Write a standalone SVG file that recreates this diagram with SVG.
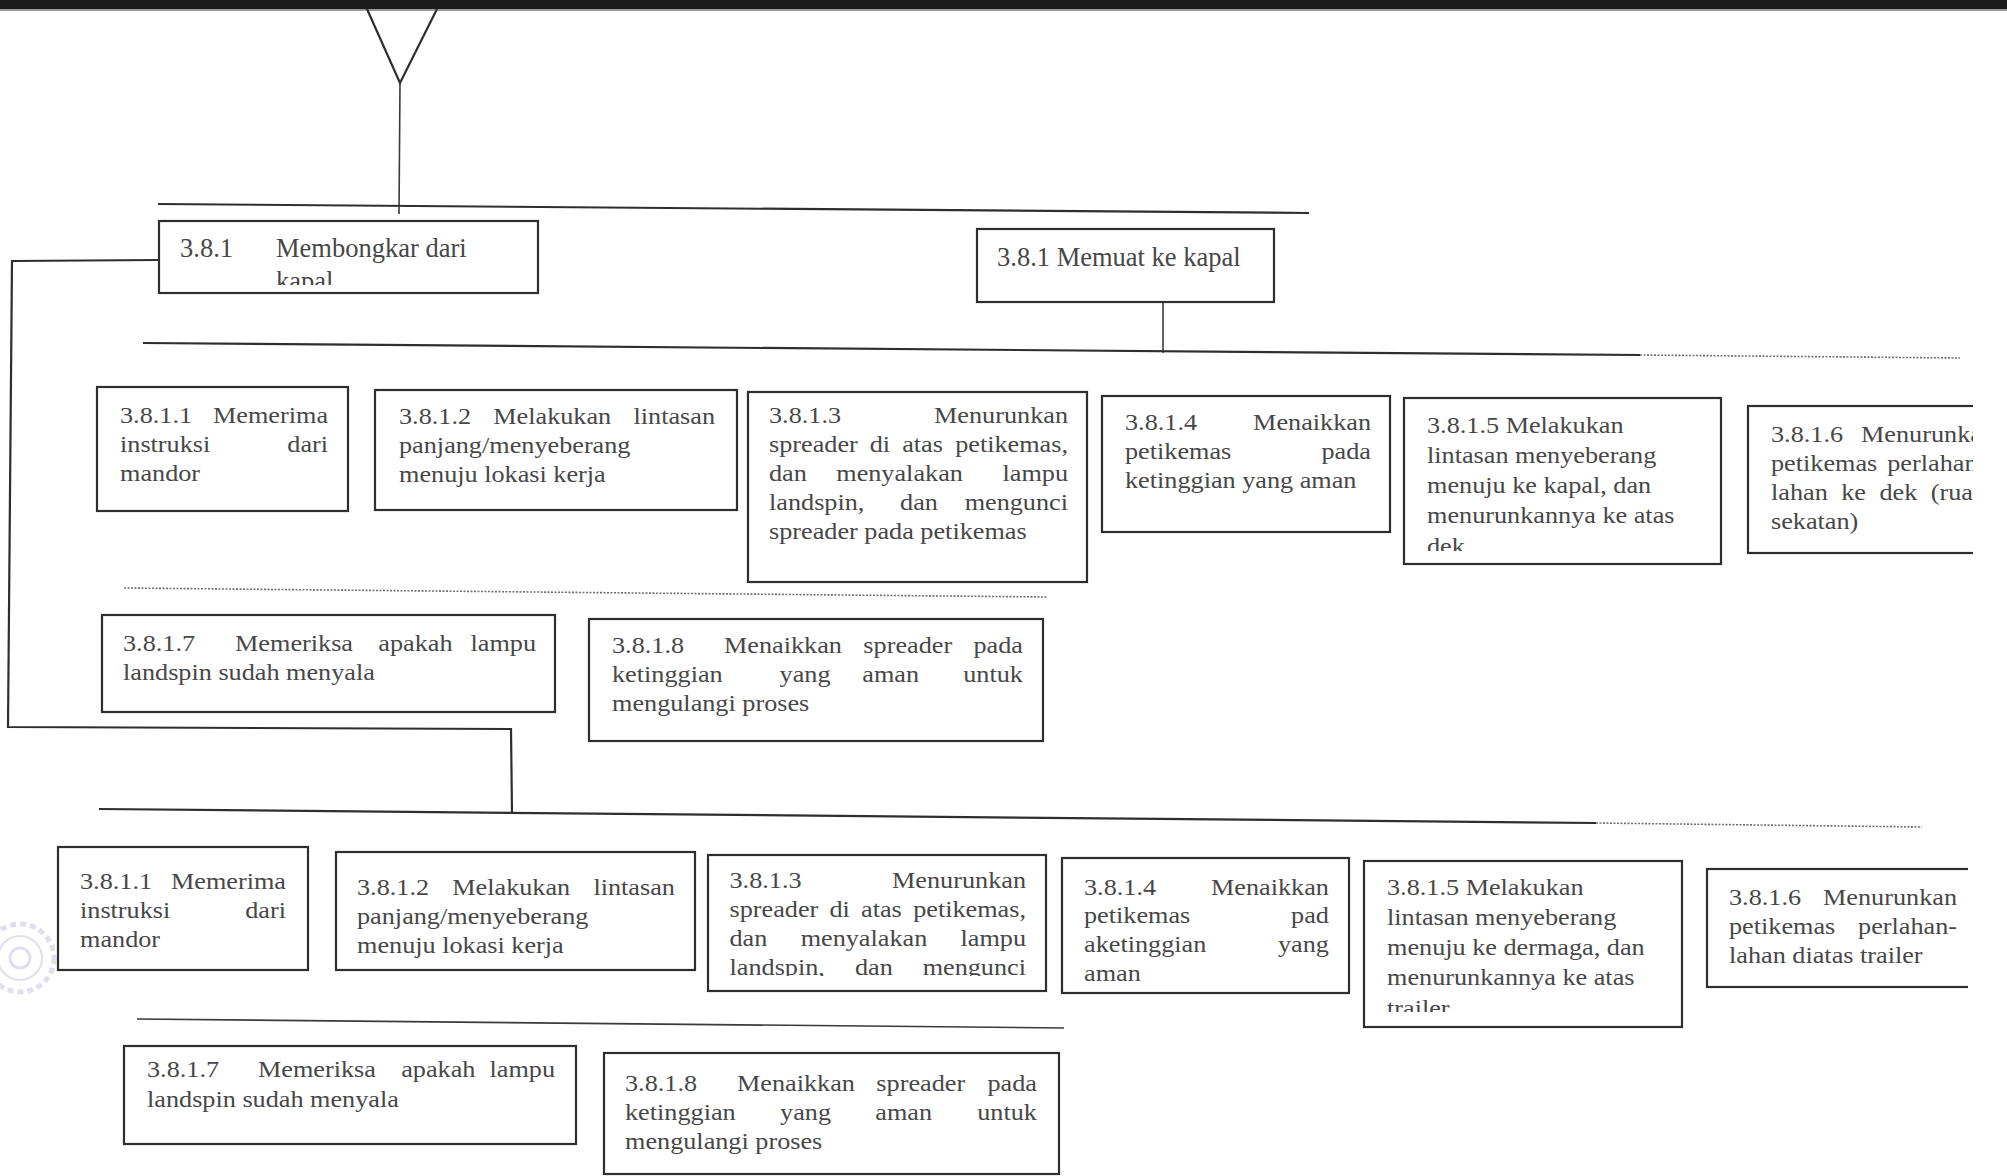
<svg xmlns="http://www.w3.org/2000/svg" width="2007" height="1176" viewBox="0 0 2007 1176">
  <style>
    .box { fill: #ffffff; stroke: #2e2e2e; stroke-width: 2.2; }
    .ln { fill: none; stroke: #2e2e2e; stroke-width: 2.2; }
    .thin { fill: none; stroke: #3a3a3a; stroke-width: 1.6; }
    .dots { fill: none; stroke: #707070; stroke-width: 1.6; stroke-dasharray: 2 1.5; }
    .t { font-family: "Liberation Serif", "Times New Roman", serif; font-size: 23px; fill: #474747; }
    .tb { font-family: "Liberation Serif", "Times New Roman", serif; font-size: 26.5px; fill: #474747; }
    .e { text-anchor: end; }
    .stamp { fill: none; stroke: #bdb6d8; opacity: 0.45; }
  </style>
  <defs>
    <clipPath id="clipA1"><rect x="150" y="215" width="400" height="70"/></clipPath>
    <clipPath id="clipB5"><rect x="1395" y="390" width="340" height="161"/></clipPath>
    <clipPath id="clipB6"><rect x="1740" y="395" width="233" height="170"/></clipPath>
    <clipPath id="clipD3"><rect x="700" y="845" width="360" height="131"/></clipPath>
    <clipPath id="clipD5"><rect x="1355" y="850" width="340" height="162"/></clipPath>
    <clipPath id="clipD6"><rect x="1700" y="860" width="268" height="140"/></clipPath>
  </defs>

  <rect x="0" y="0" width="2007" height="1176" fill="#ffffff"/>
  <!-- page edge band at the top -->
  <rect x="0" y="0" width="2007" height="9" fill="#1b1b1b"/>
  <rect x="0" y="9" width="2007" height="2" fill="#9a9a9a"/>

  <!-- faint institution stamp at the left margin -->
  <g id="stamp">
    <circle class="stamp" cx="20" cy="958" r="34" stroke-width="5" stroke-dasharray="6 4"/>
    <circle class="stamp" cx="20" cy="958" r="22" stroke-width="2"/>
    <circle class="stamp" cx="20" cy="958" r="10" stroke-width="3"/>
  </g>

  <g id="connectors">
    <polyline class="ln" points="367,9 400,83 437,9"/>
    <line class="thin" x1="400" y1="83" x2="399" y2="214"/>
    <line class="ln" x1="158" y1="204" x2="1309" y2="213"/>
    <polyline class="ln" points="158,260 12,261 8,727 511,729 512,813"/>
    <line class="thin" x1="1163" y1="303" x2="1163" y2="353"/>
    <line class="ln" x1="143" y1="343" x2="1640" y2="355"/>
    <line class="dots" x1="1640" y1="355" x2="1960" y2="358"/>
    <line class="dots" x1="124" y1="588" x2="1048" y2="597"/>
    <line class="ln" x1="99" y1="809" x2="1596" y2="823"/>
    <line class="dots" x1="1596" y1="823" x2="1922" y2="827"/>
    <line class="thin" x1="137" y1="1019" x2="1064" y2="1028" stroke="#555"/>
  </g>

  <!-- level 1 -->
  <g id="node-381-bongkar">
    <rect class="box" x="159" y="221" width="379" height="72"/>
    <g clip-path="url(#clipA1)">
      <text class="tb"><tspan x="180" y="257">3.8.1</tspan><tspan x="276" y="257">Membongkar dari</tspan><tspan x="276" y="290">kapal</tspan></text>
    </g>
  </g>
  <g id="node-381-muat">
    <rect class="box" x="977" y="229" width="297" height="73"/>
    <text class="tb" x="997" y="266">3.8.1 Memuat ke kapal</text>
  </g>

  <!-- level 2: memuat ke kapal -->
  <g id="node-a-3811">
    <rect class="box" x="97" y="387" width="251" height="124"/>
    <text class="t" transform="translate(120 0) scale(1.14 1)"><tspan x="0" y="423">3.8.1.1</tspan><tspan class="e" x="182.5" y="423">Memerima</tspan><tspan x="0" y="452">instruksi</tspan><tspan class="e" x="182.5" y="452">dari</tspan><tspan x="0" y="481">mandor</tspan></text>
  </g>
  <g id="node-a-3812">
    <rect class="box" x="375" y="390" width="362" height="120"/>
    <text class="t" transform="translate(399 0) scale(1.14 1)"><tspan x="0" y="424">3.8.1.2</tspan><tspan x="82.7" y="424">Melakukan</tspan><tspan class="e" x="277.2" y="424">lintasan</tspan><tspan x="0" y="453">panjang/menyeberang</tspan><tspan x="0" y="482">menuju lokasi kerja</tspan></text>
  </g>
  <g id="node-a-3813">
    <rect class="box" x="748" y="392" width="339" height="190"/>
    <text class="t" transform="translate(769 0) scale(1.14 1)"><tspan x="0" y="423">3.8.1.3</tspan><tspan class="e" x="262.3" y="423">Menurunkan</tspan><tspan x="0" y="452">spreader</tspan><tspan x="88.4" y="452">di</tspan><tspan x="116.8" y="452">atas</tspan><tspan class="e" x="262.3" y="452">petikemas,</tspan><tspan x="0" y="481">dan</tspan><tspan x="59" y="481">menyalakan</tspan><tspan class="e" x="262.3" y="481">lampu</tspan><tspan x="0" y="510">landspin,</tspan><tspan x="115" y="510">dan</tspan><tspan class="e" x="262.3" y="510">mengunci</tspan><tspan x="0" y="539">spreader pada petikemas</tspan></text>
  </g>
  <g id="node-a-3814">
    <rect class="box" x="1102" y="396" width="288" height="136"/>
    <text class="t" transform="translate(1125 0) scale(1.14 1)"><tspan x="0" y="430">3.8.1.4</tspan><tspan class="e" x="215.8" y="430">Menaikkan</tspan><tspan x="0" y="459">petikemas</tspan><tspan class="e" x="215.8" y="459">pada</tspan><tspan x="0" y="488">ketinggian yang aman</tspan></text>
  </g>
  <g id="node-a-3815">
    <rect class="box" x="1404" y="398" width="317" height="166"/>
    <g clip-path="url(#clipB5)">
      <text class="t" transform="translate(1427 0) scale(1.14 1)"><tspan x="0" y="433">3.8.1.5 Melakukan</tspan><tspan x="0" y="463">lintasan menyeberang</tspan><tspan x="0" y="493">menuju ke kapal, dan</tspan><tspan x="0" y="523">menurunkannya ke atas</tspan><tspan x="0" y="554">dek</tspan></text>
    </g>
  </g>
  <g id="node-a-3816" clip-path="url(#clipB6)">
    <rect class="box" x="1748" y="406" width="264" height="147"/>
    <text class="t" transform="translate(1771 0) scale(1.14 1)"><tspan x="0" y="442">3.8.1.6</tspan><tspan x="79" y="442">Menurunkan</tspan><tspan x="0" y="471">petikemas</tspan><tspan x="102" y="471">perlahan-</tspan><tspan x="0" y="500">lahan</tspan><tspan x="61.6" y="500">ke</tspan><tspan x="95.1" y="500">dek</tspan><tspan x="140.1" y="500">(ruang</tspan><tspan x="0" y="529">sekatan)</tspan></text>
  </g>
  <g id="node-a-3817">
    <rect class="box" x="102" y="615" width="453" height="97"/>
    <text class="t" transform="translate(123 0) scale(1.14 1)"><tspan x="0" y="651">3.8.1.7</tspan><tspan x="98.3" y="651">Memeriksa</tspan><tspan x="224" y="651">apakah</tspan><tspan class="e" x="362.3" y="651">lampu</tspan><tspan x="0" y="680">landspin sudah menyala</tspan></text>
  </g>
  <g id="node-a-3818">
    <rect class="box" x="589" y="619" width="454" height="122"/>
    <text class="t" transform="translate(612 0) scale(1.14 1)"><tspan x="0" y="653">3.8.1.8</tspan><tspan x="98.3" y="653">Menaikkan</tspan><tspan x="220.5" y="653">spreader</tspan><tspan class="e" x="360.5" y="653">pada</tspan><tspan x="0" y="682">ketinggian</tspan><tspan x="147" y="682">yang</tspan><tspan x="219.6" y="682">aman</tspan><tspan class="e" x="360.5" y="682">untuk</tspan><tspan x="0" y="711">mengulangi proses</tspan></text>
  </g>

  <!-- level 2: membongkar dari kapal -->
  <g id="node-b-3811">
    <rect class="box" x="58" y="847" width="250" height="123"/>
    <text class="t" transform="translate(80 0) scale(1.14 1)"><tspan x="0" y="889">3.8.1.1</tspan><tspan class="e" x="180.7" y="889">Memerima</tspan><tspan x="0" y="918">instruksi</tspan><tspan class="e" x="180.7" y="918">dari</tspan><tspan x="0" y="947">mandor</tspan></text>
  </g>
  <g id="node-b-3812">
    <rect class="box" x="336" y="852" width="359" height="118"/>
    <text class="t" transform="translate(357 0) scale(1.14 1)"><tspan x="0" y="895">3.8.1.2</tspan><tspan x="83.6" y="895">Melakukan</tspan><tspan class="e" x="278.9" y="895">lintasan</tspan><tspan x="0" y="924">panjang/menyeberang</tspan><tspan x="0" y="953">menuju lokasi kerja</tspan></text>
  </g>
  <g id="node-b-3813">
    <rect class="box" x="708" y="855" width="338" height="136"/>
    <g clip-path="url(#clipD3)">
      <text class="t" transform="translate(729.5 0) scale(1.14 1)"><tspan x="0" y="888">3.8.1.3</tspan><tspan class="e" x="260.1" y="888">Menurunkan</tspan><tspan x="0" y="917">spreader</tspan><tspan x="87.7" y="917">di</tspan><tspan x="115.4" y="917">atas</tspan><tspan class="e" x="260.1" y="917">petikemas,</tspan><tspan x="0" y="946">dan</tspan><tspan x="62.4" y="946">menyalakan</tspan><tspan class="e" x="260.1" y="946">lampu</tspan><tspan x="0" y="975">landspin,</tspan><tspan x="110" y="975">dan</tspan><tspan class="e" x="260.1" y="975">mengunci</tspan></text>
    </g>
  </g>
  <g id="node-b-3814">
    <rect class="box" x="1062" y="858" width="287" height="135"/>
    <text class="t" transform="translate(1084 0) scale(1.14 1)"><tspan x="0" y="895">3.8.1.4</tspan><tspan class="e" x="214.9" y="895">Menaikkan</tspan><tspan x="0" y="923">petikemas</tspan><tspan class="e" x="214.9" y="923">pad</tspan><tspan x="0" y="952">aketinggian</tspan><tspan class="e" x="214.9" y="952">yang</tspan><tspan x="0" y="981">aman</tspan></text>
  </g>
  <g id="node-b-3815">
    <rect class="box" x="1364" y="861" width="318" height="166"/>
    <g clip-path="url(#clipD5)">
      <text class="t" transform="translate(1387 0) scale(1.14 1)"><tspan x="0" y="895">3.8.1.5 Melakukan</tspan><tspan x="0" y="925">lintasan menyeberang</tspan><tspan x="0" y="955">menuju ke dermaga, dan</tspan><tspan x="0" y="985">menurunkannya ke atas</tspan><tspan x="0" y="1016">trailer</tspan></text>
    </g>
  </g>
  <g id="node-b-3816" clip-path="url(#clipD6)">
    <rect class="box" x="1707" y="869" width="264" height="118"/>
    <text class="t" transform="translate(1729 0) scale(1.14 1)"><tspan x="0" y="905">3.8.1.6</tspan><tspan class="e" x="200" y="905">Menurunkan</tspan><tspan x="0" y="934">petikemas</tspan><tspan class="e" x="200" y="934">perlahan-</tspan><tspan x="0" y="963">lahan diatas trailer</tspan></text>
  </g>
  <g id="node-b-3817">
    <rect class="box" x="124" y="1046" width="452" height="98"/>
    <text class="t" transform="translate(147 0) scale(1.14 1)"><tspan x="0" y="1077">3.8.1.7</tspan><tspan x="97.4" y="1077">Memeriksa</tspan><tspan x="223" y="1077">apakah</tspan><tspan class="e" x="357.9" y="1077">lampu</tspan><tspan x="0" y="1107">landspin sudah menyala</tspan></text>
  </g>
  <g id="node-b-3818">
    <rect class="box" x="604" y="1053" width="455" height="121"/>
    <text class="t" transform="translate(625 0) scale(1.14 1)"><tspan x="0" y="1091">3.8.1.8</tspan><tspan x="98.2" y="1091">Menaikkan</tspan><tspan x="220.5" y="1091">spreader</tspan><tspan class="e" x="361.4" y="1091">pada</tspan><tspan x="0" y="1120">ketinggian</tspan><tspan x="136" y="1120">yang</tspan><tspan x="219.6" y="1120">aman</tspan><tspan class="e" x="361.4" y="1120">untuk</tspan><tspan x="0" y="1149">mengulangi proses</tspan></text>
  </g>
</svg>
